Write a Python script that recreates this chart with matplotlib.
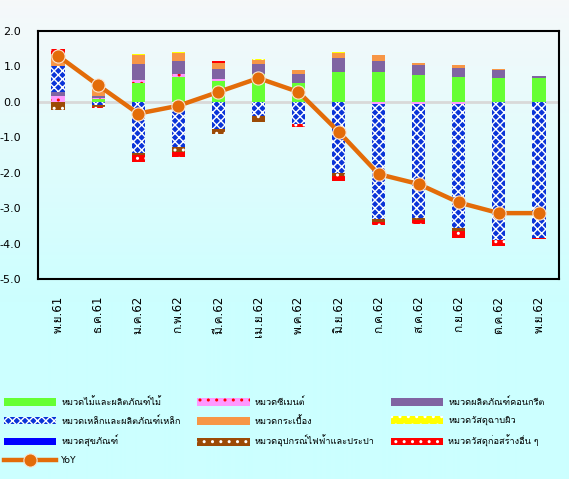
import numpy as np
import matplotlib
matplotlib.use('Agg')
import matplotlib.pyplot as plt

plt.rcParams['font.family'] = ['DejaVu Sans', 'Loma']
plt.rcParams['hatch.linewidth'] = 1.0
plt.rcParams['axes.unicode_minus'] = False

months = ['พ.ย.61', 'ธ.ค.61', 'ม.ค.62', 'ก.พ.62', 'มี.ค.62', 'เม.ย.62', 'พ.ค.62',
          'มิ.ย.62', 'ก.ค.62', 'ส.ค.62', 'ก.ย.62', 'ต.ค.62', 'พ.ย.62']

# contribution of each group (percentage points)
wood = [0.0, 0.07, 0.54, 0.71, 0.59, 0.78, 0.54, 0.83, 0.83, 0.75, 0.70, 0.68, 0.68]
cement = [0.17, 0.04, 0.09, 0.07, 0.06, 0.0, 0.0, 0.02, -0.05, -0.05, -0.05, 0.0, 0.0]
concrete = [0.12, 0.06, 0.45, 0.38, 0.28, 0.28, 0.25, 0.39, 0.33, 0.28, 0.26, 0.22, 0.05]
steel = [0.72, -0.10, -1.45, -1.28, -0.77, -0.40, -0.62, -2.0, -3.26, -3.22, -3.52, -3.90, -3.85]
tiles = [0.33, 0.20, 0.25, 0.23, 0.17, 0.12, 0.10, 0.15, 0.16, 0.07, 0.07, 0.02, 0.0]
coating = [0.0, 0.0, 0.02, 0.01, 0.0, 0.02, 0.0, 0.01, 0.01, 0.0, 0.01, 0.0, 0.0]
sanitary = [0.0, 0.0, 0.0, 0.0, 0.0, 0.0, 0.0, 0.0, 0.0, 0.0, 0.0, 0.0, 0.0]
electrical = [-0.22, -0.05, -0.05, -0.14, -0.14, -0.16, 0.0, -0.08, -0.07, -0.07, -0.07, 0.0, 0.0]
other = [0.14, -0.02, -0.20, -0.14, 0.05, 0.0, -0.08, -0.15, -0.10, -0.12, -0.20, -0.17, -0.03]
yoy = [1.30, 0.47, -0.33, -0.11, 0.28, 0.67, 0.28, -0.84, -2.04, -2.32, -2.84, -3.14, -3.14]

names = ['หมวดไม้และผลิตภัณฑ์ไม้', 'หมวดซีเมนต์', 'หมวดผลิตภัณฑ์คอนกรีต',
         'หมวดเหล็กและผลิตภัณฑ์เหล็ก', 'หมวดกระเบื้อง', 'หมวดวัสดุฉาบผิว',
         'หมวดสุขภัณฑ์', 'หมวดอุปกรณ์ไฟฟ้าและประปา', 'หมวดวัสดุก่อสร้างอื่น ๆ']
series = [wood, cement, concrete, steel, tiles, coating, sanitary, electrical, other]
faces = ['#66ff33', '#ff99ff', '#8064a2', '#0a34d8', '#f79646', '#ffff00', '#0000ff', '#9c4a06', '#ff0000']
hatch_cols = ['#66ff33', '#ff0000', '#8064a2', 'white', '#f79646', 'white', '#0000ff', 'white', 'white']
hatches = [None, '..', None, 'xxxx', None, '..', None, '..', '..']

fig = plt.figure(figsize=(5.69, 4.79), dpi=100)

# background gradient
bg = fig.add_axes([0, 0, 1, 1], zorder=-10)
h = 479
t = np.clip(np.arange(h) / (0.63 * h), 0, 1)[:, None]
top = np.array([0.965, 0.975, 0.98])
bot = np.array([0.80, 1.0, 1.0])
img = top * (1 - t) + bot * t
bg.imshow(img[:, None, :], aspect='auto', extent=[0, 1, 0, 1])
bg.axis('off')

ax = fig.add_axes([0.0668, 0.4175, 0.9156, 0.5177])
ax.set_facecolor('none')
x = np.arange(len(months))
pos = np.zeros(len(months))
neg = np.zeros(len(months))
handles = []
for name, vals, fc, hc, ht in zip(names, series, faces, hatch_cols, hatches):
    v = np.array(vals)
    bottom = np.where(v >= 0, pos, neg)
    b = ax.bar(x, v, 0.33, bottom=bottom, color=fc, edgecolor=hc, linewidth=0,
               hatch=ht, label=name, zorder=2)
    handles.append(b)
    pos += np.clip(v, 0, None)
    neg += np.clip(v, None, 0)

ax.axhline(0, color='#d9d9d9', lw=2, zorder=1)
line, = ax.plot(x, yoy, color='#e36c09', lw=3.2, marker='o', ms=9.5, mfc='#e36c09',
                mec='#fbe3cf', mew=0.8, label='YoY', zorder=3)

ax.set_xlim(-0.5, len(months) - 0.5)
ax.set_ylim(-5, 2)
ax.set_yticks(np.arange(-5, 2.1, 1))
ax.set_yticklabels(['%.1f' % v for v in np.arange(-5, 2.1, 1)])
ax.set_xticks(x)
ax.set_xticklabels(months, rotation=90)
ax.tick_params(axis='y', length=0, labelsize=8, pad=12)
ax.tick_params(axis='x', length=0, labelsize=8.5, pad=12)
for s in ax.spines.values():
    s.set_color('black')
    s.set_linewidth(1.5)

order = [0, 3, 6, 9, 1, 4, 7, 2, 5, 8]
allh = handles + [line]
alln = names + ['YoY']
fig.legend([allh[i] for i in order], [alln[i] for i in order], ncol=3,
           loc='upper left', bbox_to_anchor=(0.007, 0.171), frameon=False,
           fontsize=6.6, handlelength=5.7, handleheight=0.9, handletextpad=0.55,
           columnspacing=1.8, labelspacing=1.0, borderpad=0, borderaxespad=0)

fig.savefig('out.png', dpi=100)
